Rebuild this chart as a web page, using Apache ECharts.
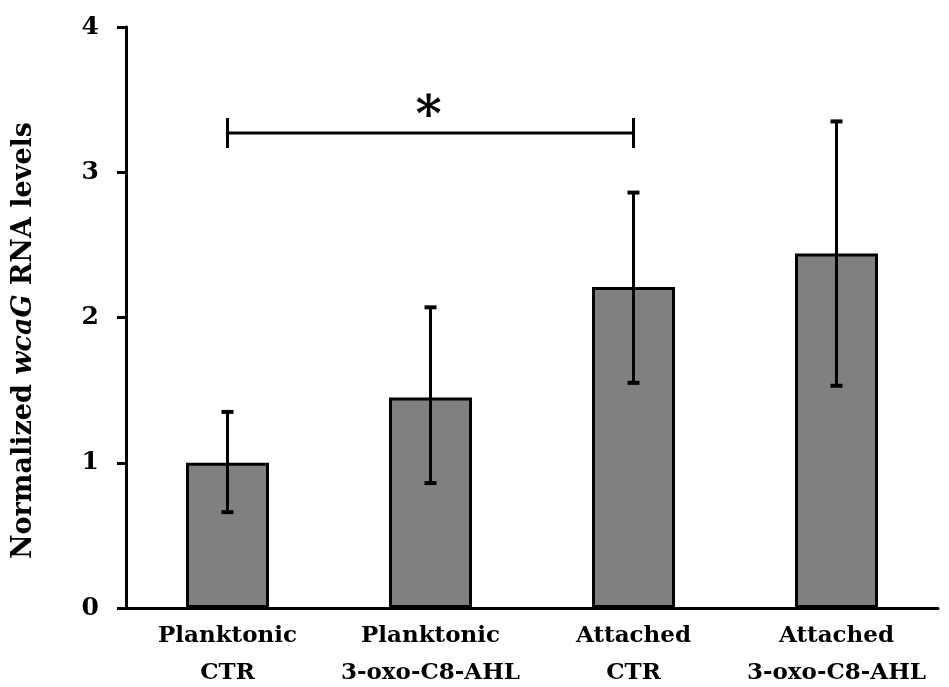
<!DOCTYPE html>
<html>
<head>
<meta charset="utf-8">
<script src="https://cdn.jsdelivr.net/npm/echarts@6/dist/echarts.min.js"></script>
<style>
  html, body { margin: 0; padding: 0; background: #fff; }
  #chart { width: 949px; height: 687px; }
</style>
</head>
<body>
<div id="chart"></div>
<script>
// values
var categories = ['Planktonic\nCTR', 'Planktonic\n3-oxo-C8-AHL', 'Attached\nCTR', 'Attached\n3-oxo-C8-AHL'];
var means = [1.0, 1.45, 2.21, 2.44];
var errLow = [0.66, 0.86, 1.55, 1.53];
var errHigh = [1.35, 2.07, 2.86, 3.35];
var yTicks = [0, 1, 2, 3, 4];
// significance bracket: from category 0 to category 2 at this height
var bracket = [[0, 2, 3.27]];

var font = 'DejaVu Serif';

var errData = [];
for (var i = 0; i < categories.length; i++) {
    errData.push([i, errLow[i], errHigh[i]]);
}

var myChart = echarts.init(document.getElementById('chart'));
var option = {
    backgroundColor: '#fff',
    animation: false,
    grid: { left: 126, right: 11, top: 27, bottom: 79, outerBoundsMode: 'none', containLabel: false },
    xAxis: {
        type: 'category',
        data: categories,
        axisLine: { lineStyle: { color: '#000', width: 3 } },
        axisTick: { show: false },
        axisLabel: {
            interval: 0,
            color: '#000', fontFamily: font, fontWeight: 'bold',
            fontSize: 23, lineHeight: 37, margin: 10
        }
    },
    yAxis: {
        type: 'value',
        min: 0, max: 4, interval: 1,
        name: '{n|Normalized }{i|wcaG}{n| RNA levels}',
        nameLocation: 'middle',
        nameRotate: 90,
        nameGap: 89,
        nameTextStyle: {
            padding: [0, 46, 0, 0],
            rich: {
                n: { fontFamily: font, fontWeight: 'bold', fontSize: 27, color: '#000' },
                i: { fontFamily: font, fontWeight: 'bold', fontStyle: 'italic', fontSize: 27, color: '#000' }
            }
        },
        axisLine: { show: true, lineStyle: { color: '#000', width: 3 } },
        axisTick: { show: true, length: 9, lineStyle: { color: '#000', width: 3 } },
        splitLine: { show: false },
        axisLabel: {
            color: '#000', fontFamily: font, fontWeight: 'bold', fontSize: 25, margin: 27,
            formatter: function (v) { return yTicks.indexOf(v) >= 0 ? String(v) : ''; }
        }
    },
    series: [
        {
            type: 'bar',
            data: means,
            barWidth: 83,
            itemStyle: { color: '#808080', borderColor: '#000', borderWidth: 3 }
        },
        {
            type: 'custom',
            data: errData,
            z: 5,
            renderItem: function (params, api) {
                var lo = api.coord([api.value(0), api.value(1)]);
                var hi = api.coord([api.value(0), api.value(2)]);
                var cap = 6;
                var st = { stroke: '#000', lineWidth: 3 };
                return {
                    type: 'group',
                    children: [
                        { type: 'line', shape: { x1: hi[0], y1: hi[1], x2: lo[0], y2: lo[1] }, style: st },
                        { type: 'line', shape: { x1: hi[0] - cap, y1: hi[1], x2: hi[0] + cap, y2: hi[1] }, style: { stroke: '#000', lineWidth: 4 } },
                        { type: 'line', shape: { x1: lo[0] - cap, y1: lo[1], x2: lo[0] + cap, y2: lo[1] }, style: { stroke: '#000', lineWidth: 4 } }
                    ]
                };
            }
        },
        {
            type: 'custom',
            data: bracket,
            z: 5,
            renderItem: function (params, api) {
                var a = api.coord([api.value(0), api.value(2)]);
                var b = api.coord([api.value(1), api.value(2)]);
                var h = 15;
                var st = { stroke: '#000', lineWidth: 3 };
                return {
                    type: 'group',
                    children: [
                        { type: 'line', shape: { x1: a[0], y1: a[1], x2: b[0], y2: b[1] }, style: st },
                        { type: 'line', shape: { x1: a[0], y1: a[1] - h, x2: a[0], y2: a[1] + h }, style: st },
                        { type: 'line', shape: { x1: b[0], y1: b[1] - h, x2: b[0], y2: b[1] + h }, style: st },
                        {
                            type: 'text',
                            style: {
                                text: '*', x: (a[0] + b[0]) / 2 - 2, y: a[1] - 15,
                                fill: '#000', font: 'bold 50px "DejaVu Serif"',
                                align: 'center', verticalAlign: 'middle'
                            }
                        }
                    ]
                };
            }
        }
    ]
};
myChart.setOption(option);
</script>
</body>
</html>
